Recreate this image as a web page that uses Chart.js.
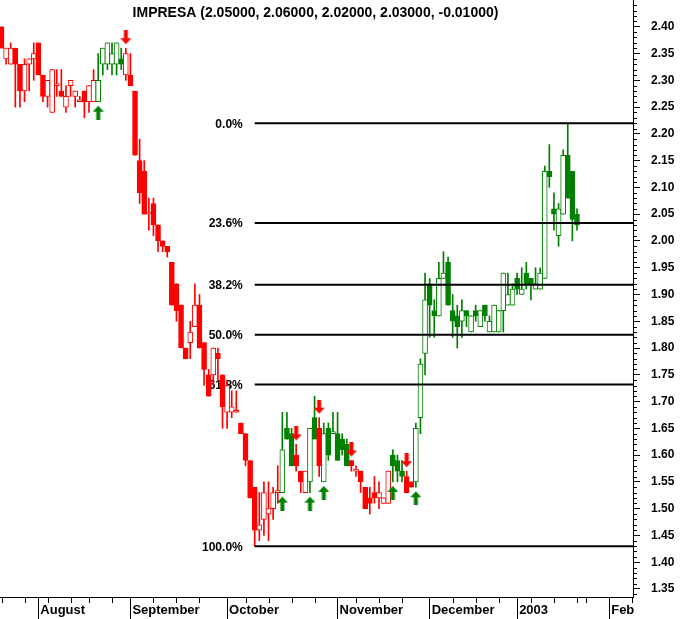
<!DOCTYPE html>
<html>
<head>
<meta charset="utf-8">
<title>IMPRESA</title>
<script src="https://cdn.jsdelivr.net/npm/chart.js@4.4.1/dist/chart.umd.min.js"></script>
<style>
  body { margin: 0; background: #fff; }
  canvas { display: block; }
</style>
</head>
<body>
<canvas id="chart" width="681" height="619"></canvas>
<script>

// daily candles, one per trading day (index 0 = late July 2002)
var opens = [2.40,2.34,2.33,2.36,2.33,2.28,2.33,2.34,2.37,2.31,2.27,2.24,2.29,2.28,2.25,2.29,2.27,2.26,2.28,2.26,
  2.26,2.26,2.33,2.33,2.33,2.33,2.34,2.31,2.31,2.28,2.15,2.13,2.05,2.07,2.03,2.00,1.99,1.96,1.92,1.88,
  1.80,1.81,1.84,1.88,1.81,1.75,1.75,1.79,1.75,1.68,1.68,1.68,1.66,1.64,1.59,1.54,1.46,1.48,1.49,1.50,
  1.53,1.53,1.65,1.64,1.60,1.57,1.53,1.55,1.67,1.65,1.55,1.65,1.64,1.64,1.63,1.62,1.59,1.57,1.57,1.54,
  1.52,1.53,1.52,1.51,1.51,1.60,1.59,1.57,1.56,1.55,1.55,1.67,1.79,1.92,1.87,1.86,1.93,1.96,1.87,1.86,
  1.85,1.87,1.83,1.87,1.84,1.88,1.83,1.83,1.83,1.87,1.88,1.88,1.93,1.90,1.94,1.93,1.91,1.91,1.93,2.13,
  2.06,2.01,2.05,2.16,2.13,2.05]
var highs = [2.40,2.36,2.37,2.36,2.33,2.34,2.34,2.37,2.37,2.31,2.30,2.32,2.32,2.32,2.29,2.30,2.28,2.27,2.28,2.29,
  2.32,2.35,2.36,2.37,2.37,2.37,2.36,2.36,2.35,2.28,2.19,2.15,2.08,2.08,2.03,2.00,1.99,1.96,1.92,1.88,
  1.80,1.85,1.92,1.90,1.81,1.76,1.80,1.80,1.75,1.74,1.72,1.72,1.66,1.64,1.59,1.54,1.53,1.55,1.55,1.54,
  1.58,1.68,1.68,1.65,1.62,1.57,1.57,1.65,1.71,1.67,1.66,1.66,1.68,1.68,1.64,1.63,1.59,1.58,1.57,1.54,
  1.54,1.56,1.55,1.52,1.57,1.61,1.60,1.59,1.57,1.55,1.66,1.78,1.94,1.93,1.89,1.96,1.98,1.97,1.90,1.88,
  1.89,1.87,1.86,1.88,1.87,1.88,1.86,1.88,1.87,1.94,1.94,1.92,1.94,1.95,1.96,1.93,1.95,1.95,2.14,2.18,
  2.09,2.07,2.17,2.22,2.13,2.06]
var lows = [2.36,2.33,2.33,2.25,2.25,2.26,2.28,2.30,2.31,2.26,2.25,2.24,2.27,2.27,2.24,2.27,2.25,2.26,2.23,2.24,
  2.26,2.26,2.31,2.32,2.31,2.31,2.32,2.30,2.29,2.16,2.07,2.05,2.02,2.01,1.98,1.98,1.97,1.88,1.85,1.80,
  1.78,1.78,1.84,1.80,1.73,1.71,1.73,1.74,1.65,1.65,1.67,1.68,1.64,1.58,1.52,1.43,1.44,1.45,1.44,1.48,
  1.51,1.53,1.63,1.58,1.57,1.53,1.53,1.53,1.63,1.56,1.55,1.59,1.64,1.59,1.60,1.58,1.57,1.56,1.53,1.50,
  1.49,1.51,1.50,1.51,1.51,1.55,1.55,1.55,1.53,1.54,1.54,1.64,1.75,1.82,1.82,1.86,1.93,1.88,1.82,1.80,
  1.82,1.84,1.83,1.85,1.84,1.85,1.83,1.83,1.83,1.83,1.88,1.88,1.90,1.90,1.91,1.89,1.91,1.91,1.93,2.10,
  2.02,1.99,2.05,2.08,2.00,2.02]
var closes = [2.36,2.36,2.36,2.33,2.28,2.33,2.34,2.35,2.31,2.27,2.30,2.32,2.29,2.27,2.27,2.30,2.28,2.26,2.26,2.29,
  2.30,2.30,2.36,2.37,2.35,2.37,2.33,2.35,2.29,2.16,2.09,2.05,2.05,2.03,2.00,1.99,1.98,1.88,1.87,1.80,
  1.78,1.83,1.88,1.80,1.76,1.71,1.80,1.78,1.69,1.73,1.69,1.68,1.64,1.59,1.52,1.46,1.47,1.53,1.50,1.53,
  1.53,1.61,1.63,1.58,1.58,1.55,1.57,1.65,1.63,1.58,1.64,1.60,1.64,1.59,1.61,1.58,1.58,1.57,1.55,1.50,
  1.51,1.52,1.53,1.52,1.57,1.58,1.57,1.56,1.53,1.54,1.65,1.77,1.89,1.88,1.86,1.93,1.94,1.88,1.85,1.84,
  1.87,1.86,1.86,1.86,1.87,1.86,1.85,1.88,1.87,1.94,1.90,1.91,1.91,1.91,1.92,1.92,1.92,1.94,2.13,2.12,
  2.05,2.06,2.16,2.08,2.04,2.03]

// buy / sell signal days
var buySignals = [21, 61, 67, 70, 85, 90]
var sellSignals = [27, 64, 69, 76, 88]

// axis labels
var monthLabels = ['August', 'September', 'October', 'November', 'December', '2003', 'Feb']
var monthStarts = [8, 28, 49, 73, 93, 112, 132]
var weekTicks = [0, 5, 10, 15, 19, 24, 33, 38, 43, 53, 58, 63, 68, 77, 82, 87, 98, 103, 108, 115, 120, 125, 127, 137]
var priceTicks = [1.35,1.40,1.45,1.50,1.55,1.60,1.65,1.70,1.75,1.80,1.85,1.90,1.95,2.00,2.05,2.10,2.15,2.20,2.25,2.30,2.35,2.40]
var fibPercents = [0.0, 23.6, 38.2, 50.0, 61.8, 100.0]

var RED = '#ff0000', GREEN = '#008000'
var X_MIN = -0.33, X_MAX = 137.17

var n = closes.length
var idx = []
for (var i = 0; i < n; i++) idx.push(i)

var colors = []
var state = RED
idx.forEach(function(i){
  if (buySignals.indexOf(i) >= 0) state = GREEN
  if (sellSignals.indexOf(i) >= 0) state = RED
  colors.push(state)
})

// retracement from the October low up to the January high
var bottomPrice = Math.min.apply(null, lows)
var lowIdx = lows.indexOf(bottomPrice)
var topPrice = Math.max.apply(null, highs.slice(lowIdx))
var fibLevels = fibPercents.map(function(p){ return topPrice - p / 100 * (topPrice - bottomPrice) })

var last = n - 1
var titleText = 'IMPRESA (' + opens[last].toFixed(5) + ', ' + highs[last].toFixed(5) + ', ' +
  lows[last].toFixed(5) + ', ' + closes[last].toFixed(5) + ', ' + (closes[last] - closes[last - 1]).toFixed(5) + ')'

function makeArrow(color, up){
  var c = document.createElement('canvas')
  c.width = 11
  c.height = 36
  var g = c.getContext('2d')
  g.fillStyle = color
  g.beginPath()
  if (up) {
    g.moveTo(5.5, 22); g.lineTo(11, 28); g.lineTo(0, 28)
    g.fill()
    g.fillRect(3.5, 28, 4, 8)
  } else {
    g.moveTo(5.5, 14); g.lineTo(11, 8); g.lineTo(0, 8)
    g.fill()
    g.fillRect(3.5, 0, 4, 8)
  }
  return c
}

var FONT = '"Liberation Sans", Arial, sans-serif'
Chart.defaults.font.family = FONT
Chart.defaults.color = '#000'

var extras = {
  id: 'extras',
  beforeDatasetsDraw: function(chart){
    var ctx = chart.ctx, xs = chart.scales.x, ys = chart.scales.y
    ctx.save()
    ctx.font = 'bold 12px ' + FONT
    ctx.fillStyle = '#000'
    ctx.textAlign = 'right'
    ctx.textBaseline = 'alphabetic'
    fibPercents.forEach(function(p, k){
      ctx.fillText(p.toFixed(1) + '%', xs.getPixelForValue(lowIdx) - 12, ys.getPixelForValue(fibLevels[k]) + 4.5)
    })
    ctx.restore()
  },
  afterDraw: function(chart){
    var ctx = chart.ctx, xs = chart.scales.x, ys = chart.scales.y, area = chart.chartArea
    ctx.save()
    ctx.strokeStyle = '#000'
    ctx.lineWidth = 1
    ctx.beginPath()
    for (var k = 134; k <= 245; k++) {
      if (k % 5 === 0) continue
      var py = Math.round(ys.getPixelForValue(k / 100)) + 0.5
      ctx.moveTo(area.right, py)
      ctx.lineTo(area.right + 4, py)
    }
    weekTicks.forEach(function(w){
      var px = Math.round(xs.getPixelForValue(w)) + 0.5
      if (px < area.left || px > area.right) return
      ctx.moveTo(px, area.bottom)
      ctx.lineTo(px, area.bottom + 6)
    })
    ctx.stroke()
    ctx.font = 'bold 14px ' + FONT
    ctx.fillStyle = '#000'
    ctx.textAlign = 'center'
    ctx.textBaseline = 'alphabetic'
    ctx.fillText(titleText, (area.left + area.right) / 2 - 1, 16.5)
    ctx.restore()
  }
}

var datasets = [
  {
    type: 'bar',
    data: idx.map(function(i){ return { x: i, y: [opens[i], closes[i]] } }),
    backgroundColor: idx.map(function(i){ return closes[i] < opens[i] ? colors[i] : '#ffffff' }),
    borderColor: colors,
    borderWidth: 1,
    borderSkipped: false,
    barThickness: 5,
    minBarLength: 2,
    grouped: false,
    order: 1
  },
  {
    type: 'bar',
    data: idx.map(function(i){ return { x: i, y: [lows[i], highs[i]] } }),
    backgroundColor: colors,
    borderWidth: 0,
    barThickness: 1,
    grouped: false,
    order: 2
  },
  {
    type: 'line',
    showLine: false,
    data: buySignals.map(function(i){ return { x: i, y: lows[i] } }),
    pointStyle: makeArrow(GREEN, true),
    pointRadius: 5,
    order: -2
  },
  {
    type: 'line',
    showLine: false,
    data: sellSignals.map(function(i){ return { x: i, y: highs[i] } }),
    pointStyle: makeArrow(RED, false),
    pointRadius: 5,
    order: -2
  }
]

fibLevels.forEach(function(lvl){
  datasets.push({
    type: 'line',
    data: [{ x: lowIdx, y: lvl }, { x: X_MAX, y: lvl }],
    borderColor: '#000',
    borderWidth: 2,
    pointRadius: 0,
    order: -1
  })
})

var chart = new Chart(document.getElementById('chart').getContext('2d'), {
  type: 'bar',
  data: { datasets: datasets },
  options: {
    responsive: false,
    animation: false,
    devicePixelRatio: 1,
    events: [],
    layout: { padding: 0, autoPadding: false },
    plugins: { legend: { display: false }, tooltip: { enabled: false } },
    scales: {
      x: {
        type: 'linear',
        min: X_MIN,
        max: X_MAX,
        offset: false,
        grid: { offset: false, drawOnChartArea: false, tickLength: 22, color: '#000' },
        border: { color: '#000' },
        ticks: {
          autoSkip: false,
          maxRotation: 0,
          align: 'start',
          labelOffset: 2,
          padding: -16,
          font: { size: 13, weight: 'bold' },
          callback: function(v, i){ return monthLabels[i] }
        },
        afterBuildTicks: function(s){ s.ticks = monthStarts.map(function(v){ return { value: v } }) },
        afterFit: function(s){ s.height = 22; s.paddingLeft = 0; s.paddingRight = 0 }
      },
      y: {
        type: 'linear',
        position: 'right',
        min: 1.335,
        max: 2.45,
        grid: { drawOnChartArea: false, tickLength: 7, color: '#000' },
        border: { color: '#000' },
        ticks: {
          autoSkip: false,
          padding: 11,
          font: { size: 12, weight: 'bold' },
          callback: function(v){ return v.toFixed(2) }
        },
        afterBuildTicks: function(s){ s.ticks = priceTicks.map(function(v){ return { value: v } }) },
        afterFit: function(s){ s.width = 48; s.paddingTop = 0; s.paddingBottom = 0 }
      }
    }
  },
  plugins: [extras]
})
</script>
</body>
</html>
